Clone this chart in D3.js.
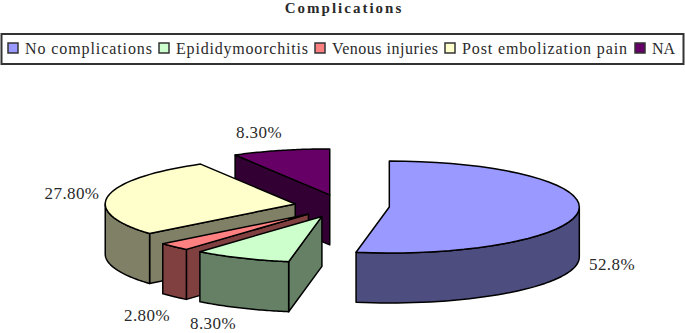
<!DOCTYPE html>
<html>
<head>
<meta charset="utf-8">
<script src="https://cdn.jsdelivr.net/npm/d3@7"></script>
<style>
  html, body { margin: 0; padding: 0; background: #fff; }
  svg { display: block; }
  text { font-family: "Liberation Serif", serif; fill: #2a2a2a; }
</style>
</head>
<body>
<div id="chart"></div>
<script>
const categories = ["No complications", "Epididymoorchitis", "Venous injuries", "Post embolization pain", "NA"];
const values = [52.8, 8.3, 2.8, 27.8, 8.3];
const valueLabels = ["52.8%", "8.30%", "2.80%", "27.80%", "8.30%"];
const colors = ["#9999ff", "#ccffcc", "#ff8080", "#ffffcc", "#660066"];

const width = 685, height = 333;
const cx = 342, cy = 206, rx = 190, ry = 46, depth = 50, explode = 0.25;

// where each value label sits, same order as categories
const labelPos = [[612, 270], [213, 329], [147, 321], [72, 199], [259, 138]];
// legend layout, the spacing in the original is uneven
const legendX = [8, 159, 315, 445, 635];
const legendTextWidth = [127, 132, 106, 165, 23];

const svg = d3.select("#chart").append("svg")
    .attr("width", width)
    .attr("height", height);

// title
svg.append("text")
    .attr("x", 344)
    .attr("y", 13)
    .attr("text-anchor", "middle")
    .style("font-size", "15px")
    .style("font-weight", "bold")
    .style("letter-spacing", "2px")
    .text("Complications");

// legend box
svg.append("rect")
    .attr("x", 1.5)
    .attr("y", 34)
    .attr("width", 682)
    .attr("height", 30)
    .attr("fill", "none")
    .attr("stroke", "#333")
    .attr("stroke-width", 2);

categories.forEach((c, i) => {
    svg.append("rect")
        .attr("x", legendX[i])
        .attr("y", 43)
        .attr("width", 10)
        .attr("height", 10)
        .attr("fill", colors[i])
        .attr("stroke", "#333")
        .attr("stroke-width", 1.5);
    svg.append("text")
        .attr("x", legendX[i] + 17)
        .attr("y", 54)
        .attr("textLength", legendTextWidth[i])
        .attr("lengthAdjust", "spacing")
        .style("font-size", "16px")
        .text(c);
});

// pie angles, clockwise from 12 o'clock, in draw order the back slices go first
const arcs = d3.pie().sort(null).value(d => d)(values);
const drawOrder = [4, 3, 2, 1, 0];

const xScale = d3.scaleLinear().domain([-1, 1]).range([-rx, rx]);
const yScale = d3.scaleLinear().domain([-1, 1]).range([-ry, ry]);
const line = d3.line().x(d => d[0]).y(d => d[1]);

const rimPoint = (c, a, dy) => [c[0] + xScale(Math.sin(a)), c[1] - yScale(Math.cos(a)) + dy];
const sampleAngles = (a0, a1) => d3.range(0, 41).map(k => a0 + (a1 - a0) * k / 40);
const darker = col => {
    let c = d3.rgb(col);
    return d3.rgb(c.r / 2, c.g / 2, c.b / 2).formatHex();
};

const pie = svg.append("g")
    .attr("stroke", "#000")
    .attr("stroke-width", 1.5)
    .attr("stroke-linejoin", "round");

drawOrder.forEach(i => {
    let d = arcs[i];
    let mid = (d.startAngle + d.endAngle) / 2;
    let c = [cx + explode * xScale(Math.sin(mid)), cy - explode * yScale(Math.cos(mid))];
    let side = darker(colors[i]);

    // cut faces, left half shows the start face and right half the end face
    let faces = [];
    if (Math.sin(d.startAngle) < -1e-6) faces.push(d.startAngle);
    if (Math.sin(d.endAngle) > 1e-6) faces.push(d.endAngle);
    faces.forEach(a => {
        pie.append("path")
            .attr("d", line([c, rimPoint(c, a, 0), rimPoint(c, a, depth), [c[0], c[1] + depth]]) + "Z")
            .attr("fill", side);
    });

    // outer wall, only the part facing the viewer
    let a0 = Math.max(d.startAngle, Math.PI / 2);
    let a1 = Math.min(d.endAngle, Math.PI * 1.5);
    if (a1 > a0) {
        let angles = sampleAngles(a0, a1);
        let pts = angles.map(a => rimPoint(c, a, 0))
            .concat(angles.slice().reverse().map(a => rimPoint(c, a, depth)));
        pie.append("path")
            .attr("d", line(pts) + "Z")
            .attr("fill", side);
    }

    // top
    let top = [c].concat(sampleAngles(d.startAngle, d.endAngle).map(a => rimPoint(c, a, 0)));
    pie.append("path")
        .attr("d", line(top) + "Z")
        .attr("fill", colors[i]);
});

// value labels
svg.selectAll(".value-label")
    .data(valueLabels)
    .enter()
    .append("text")
    .attr("class", "value-label")
    .attr("x", (d, i) => labelPos[i][0])
    .attr("y", (d, i) => labelPos[i][1])
    .attr("text-anchor", "middle")
    .style("font-size", "17px")
    .style("letter-spacing", "0.4px")
    .text(d => d);
</script>
</body>
</html>
